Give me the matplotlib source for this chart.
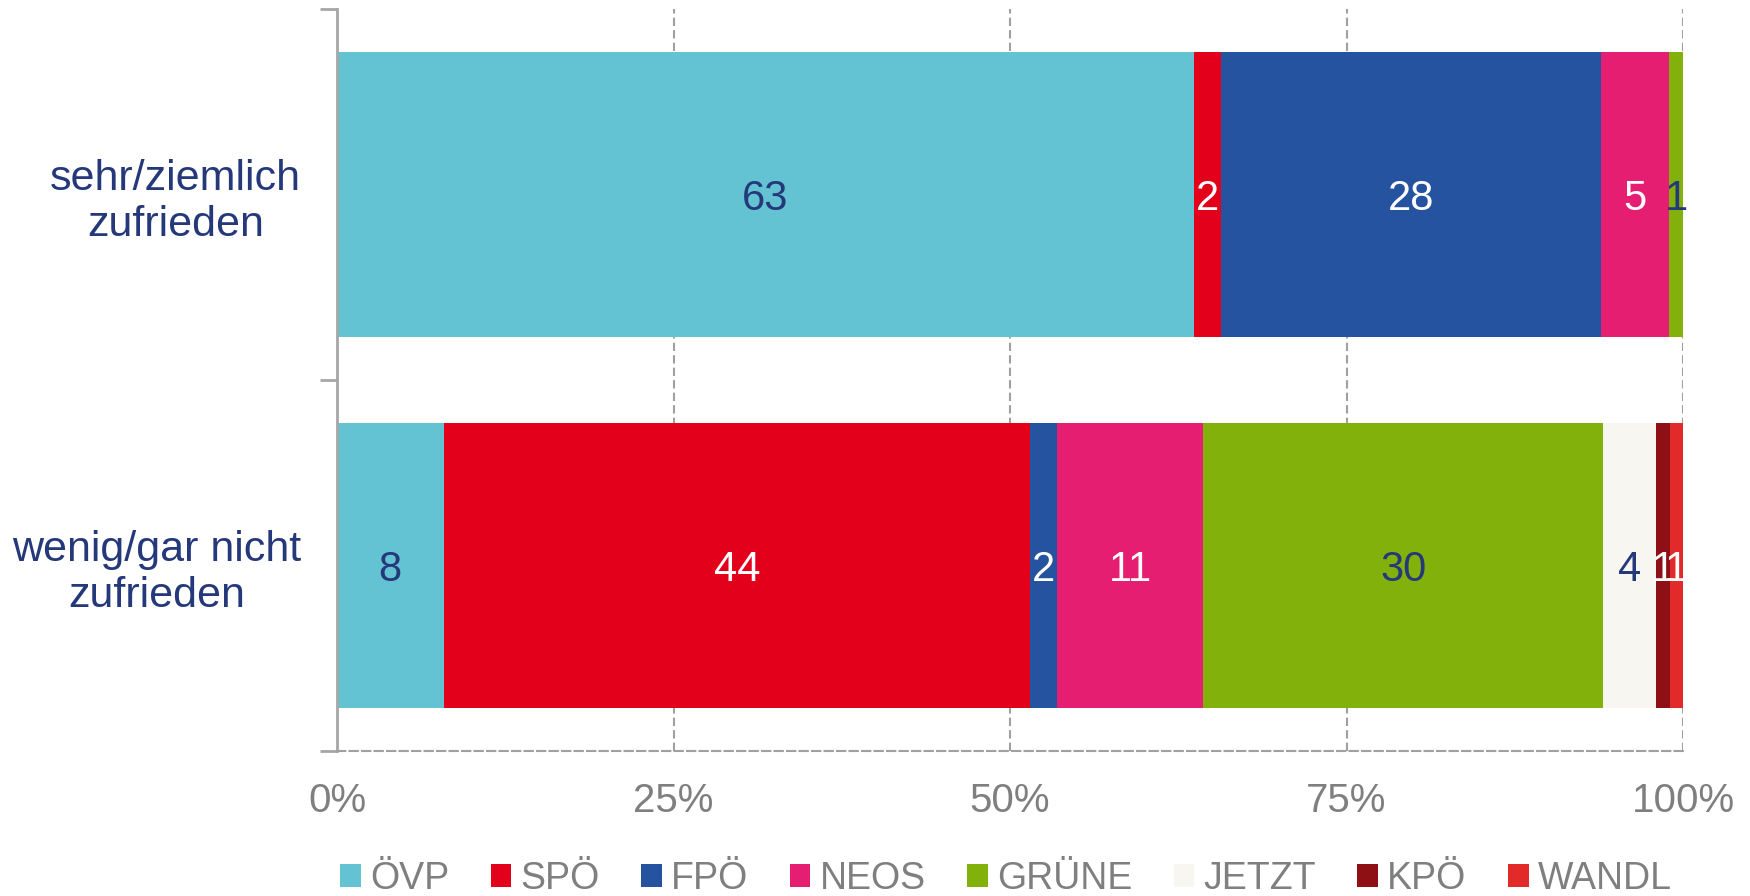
import matplotlib
matplotlib.use('Agg')
import matplotlib.pyplot as plt
from matplotlib.patches import Patch
import numpy as np

plt.rcParams['font.family'] = ['Liberation Sans', 'DejaVu Sans']

categories = ['sehr/ziemlich\nzufrieden', 'wenig/gar nicht\nzufrieden']
parties = ['ÖVP', 'SPÖ', 'FPÖ', 'NEOS', 'GRÜNE', 'JETZT', 'KPÖ', 'WANDL']
oevp = [63, 8]
spoe = [2, 44]
fpoe = [28, 2]
neos = [5, 11]
gruene = [1, 30]
jetzt = [0, 4]
kpoe = [0, 1]
wandl = [0, 1]
series = [oevp, spoe, fpoe, neos, gruene, jetzt, kpoe, wandl]

colors = ['#63C3D2', '#E2001A', '#2553A0', '#E61E72', '#83B10B', '#F7F6F1', '#8E1014', '#E32A2A']
navy = '#24387A'
label_colors = [navy, 'white', 'white', 'white', navy, navy, 'white', 'white']
xticks = [0, 25, 50, 75, 100]
xtick_labels = ['0%', '25%', '50%', '75%', '100%']
gray = '#7F7F80'

fig = plt.figure(figsize=(17.5, 8.96), dpi=100)
ax = fig.add_axes([337/1750, 1-751/896, (1683-337)/1750, (751-9)/896])

data = np.array(series, dtype=float)
totals = data.sum(axis=0)
shares = data / totals * 100
y = np.arange(len(categories)) + 0.5
left = np.zeros(len(categories))
for i, p in enumerate(parties):
    ax.barh(y, shares[i], left=left, height=0.77, color=colors[i], label=p, zorder=2)
    for j in range(len(categories)):
        if data[i, j] > 0:
            ax.text(left[j] + shares[i, j] / 2, y[j], f'{int(data[i, j])}',
                    ha='center', va='center_baseline', fontsize=30,
                    color=label_colors[i], zorder=3)
    left += shares[i]

ax.set_xlim(0, 100)
ax.set_ylim(2, 0)
ax.set_xticks(xticks)
ax.set_xticklabels(xtick_labels, fontsize=29, color=gray)
ax.tick_params(axis='x', length=0, pad=22)
ax.set_yticks([0, 1, 2])
ax.set_yticklabels([])
ax.tick_params(axis='y', which='major', length=12, width=2, color='#A6A6A6', direction='out')
ax.set_yticks(y, minor=True)
ax.set_yticklabels(categories, minor=True, fontsize=31, color=navy, multialignment='center')
ax.tick_params(axis='y', which='minor', length=0, pad=26)

ax.grid(axis='x', linestyle=(0, (4, 2)), color='#A0A0A0', linewidth=1.5, zorder=0)
ax.set_axisbelow(True)
for s in ['top', 'right']:
    ax.spines[s].set_visible(False)
ax.spines['left'].set_color('#A6A6A6')
ax.spines['left'].set_linewidth(2)
ax.spines['bottom'].set_color('#A0A0A0')
ax.spines['bottom'].set_linewidth(1.5)
ax.spines['bottom'].set_linestyle((0, (4, 2)))

handles = [Patch(facecolor=c, edgecolor='none') for c in colors]
leg = fig.legend(handles, parties, loc='center', bbox_to_anchor=(1006/1750, 1-879/896),
                 ncol=8, frameon=False, fontsize=27, handlelength=0.55, handleheight=0.55,
                 handletextpad=0.25, columnspacing=1.1, labelcolor=gray,
                 borderpad=0.1, borderaxespad=0.0)

fig.savefig('out.png', dpi=100)
